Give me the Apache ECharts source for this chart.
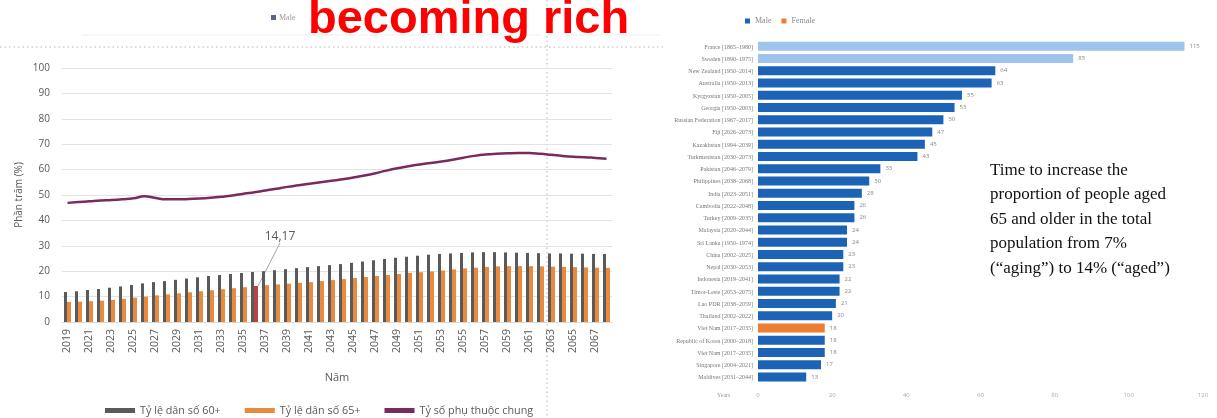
<!DOCTYPE html>
<html>
<head>
<meta charset="utf-8">
<script src="https://cdn.jsdelivr.net/npm/echarts@6/dist/echarts.min.js"></script>
<style>
  html, body { margin: 0; padding: 0; background: #fff; }
  #main { width: 1217px; height: 418px; }
</style>
</head>
<body>
<div id="main"></div>
<script>
// left chart: years 2019..2068
var years = ['2019','2020','2021','2022','2023','2024','2025','2026','2027','2028',
  '2029','2030','2031','2032','2033','2034','2035','2036','2037','2038',
  '2039','2040','2041','2042','2043','2044','2045','2046','2047','2048',
  '2049','2050','2051','2052','2053','2054','2055','2056','2057','2058',
  '2059','2060','2061','2062','2063','2064','2065','2066','2067','2068'];
var pop60 = [11.8,12.1,12.6,13.0,13.5,14.0,14.6,15.2,15.7,16.1,
  16.6,17.1,17.6,18.1,18.5,18.9,19.3,19.7,20.0,20.4,
  20.8,21.2,21.6,22.0,22.4,22.8,23.3,23.8,24.3,24.8,
  25.3,25.7,26.1,26.5,26.8,27.0,27.2,27.4,27.5,27.5,
  27.4,27.3,27.2,27.1,27.0,27.0,26.9,26.9,26.8,26.8];
var pop65 = [7.9,8.0,8.2,8.4,8.7,9.1,9.6,10.0,10.5,10.9,
  11.3,11.7,12.1,12.5,12.9,13.3,13.7,14.17,14.5,14.8,
  15.1,15.4,15.7,16.1,16.5,16.9,17.3,17.7,18.1,18.5,
  18.9,19.3,19.6,19.9,20.3,20.7,21.1,21.4,21.7,21.9,
  22.0,22.0,22.0,21.9,21.8,21.7,21.6,21.5,21.4,21.3];
var dependency = [46.9,47.2,47.5,47.8,48.0,48.3,48.7,49.5,48.8,48.3,
  48.3,48.4,48.6,48.9,49.3,49.8,50.5,51.1,51.8,52.5,
  53.2,53.8,54.4,55.0,55.6,56.2,56.9,57.7,58.6,59.6,
  60.5,61.3,62.0,62.6,63.2,63.9,64.7,65.4,65.9,66.2,
  66.4,66.5,66.5,66.2,65.8,65.4,65.1,64.9,64.6,64.3];
var highlightIndex = 17;

// right chart: years to go from 7% to 14% aged 65+
var countries = ['France [1865–1980]','Sweden [1890–1975]','New Zealand [1950–2014]','Australia [1950–2013]',
  'Kyrgyzstan [1950–2005]','Georgia [1950–2003]','Russian Federation [1967–2017]','Fiji [2026–2073]',
  'Kazakhstan [1994–2039]','Turkmenistan [2030–2073]','Pakistan [2046–2079]','Philippines [2038–2068]',
  'India [2023–2051]','Cambodia [2022–2048]','Turkey [2009–2035]','Malaysia [2020–2044]',
  'Sri Lanka [1950–1974]','China [2002–2025]','Nepal [2030–2053]','Indonesia [2019–2041]',
  'Timor-Leste [2053–2075]','Lao PDR [2038–2059]','Thailand [2002–2022]','Viet Nam [2017–2035]',
  'Republic of Korea [2000–2018]','Viet Nam [2017–2035]','Singapore [2004–2021]','Maldives [2031–2044]'];
var yearsToAge = [115,85,64,63,55,53,50,47,45,43,33,30,28,26,26,24,24,23,23,22,22,21,20,18,18,18,17,13];
var lightIdx = [0, 1];
var orangeIdx = 23;

var noteLines = ['Time to increase the', 'proportion of people aged', '65 and older in the total',
  'population from 7%', '(\u201caging\u201d) to 14% (\u201caged\u201d)'];

var gray = '#595959';

var chart = echarts.init(document.getElementById('main'));

var s65 = pop65.map(function (v, i) {
  if (i !== highlightIndex) return v;
  return {
    value: v,
    itemStyle: { color: '#b8443f' },
    label: { show: true, position: 'top', formatter: '14,17', fontSize: 12, color: gray, fontFamily: 'Open Sans' }
  };
});

var rightData = yearsToAge.map(function (v, i) {
  var c = '#1c63b6';
  if (lightIdx.indexOf(i) >= 0) c = '#9ec4ee';
  if (i === orangeIdx) c = '#ee7d2f';
  return { value: v, itemStyle: { color: c } };
});

chart.setOption({
  animation: false,
  textStyle: { fontFamily: 'Open Sans' },
  grid: [
    { left: 62, top: 68, width: 550, height: 254 },
    { left: 758, top: 41, width: 445, height: 343 }
  ],
  legend: [{
    left: 100, top: 400,
    itemWidth: 30, itemHeight: 5, itemGap: 24,
    icon: 'rect',
    textStyle: { fontSize: 10.8, color: gray },
    data: ['Tỷ lệ dân số 60+', 'Tỷ lệ dân số 65+', 'Tỷ số phụ thuộc chung']
  }, {
    left: 740, top: 12,
    itemWidth: 5, itemHeight: 5, itemGap: 10,
    icon: 'rect',
    textStyle: { fontSize: 8, color: '#888', fontFamily: 'Liberation Serif' },
    data: ['Male', 'Female']
  }],
  xAxis: [{
    type: 'category', gridIndex: 0, data: years,
    axisLine: { lineStyle: { color: '#d9d9d9' } },
    axisTick: { show: false },
    axisLabel: { rotate: 90, interval: 1, fontSize: 10.5, color: gray, margin: 7 },
    name: 'Năm', nameLocation: 'middle', nameGap: 50,
    nameTextStyle: { fontSize: 11, color: gray }
  }, {
    type: 'value', gridIndex: 1, min: 0, max: 120, interval: 20,
    splitLine: { show: false },
    axisLine: { show: false },
    axisTick: { show: false },
    axisLabel: { fontSize: 6, color: '#aaa', margin: 8 }
  }],
  yAxis: [{
    type: 'value', gridIndex: 0, min: 0, max: 100, interval: 10,
    splitLine: { lineStyle: { color: '#e3e3e3' } },
    axisLabel: { fontSize: 10, color: gray, margin: 12 },
    name: 'Phần trăm (%)', nameLocation: 'middle', nameGap: 38, nameRotate: 90,
    nameTextStyle: { fontSize: 10, color: gray }
  }, {
    type: 'category', gridIndex: 1, data: countries, inverse: true,
    axisLine: { show: false },
    axisTick: { show: false },
    axisLabel: { fontSize: 6, color: '#777', margin: 5, fontFamily: 'Liberation Serif' }
  }],
  series: [{
    name: 'Tỷ lệ dân số 60+', type: 'bar', xAxisIndex: 0, yAxisIndex: 0,
    data: pop60, barWidth: 3, barGap: '0%',
    itemStyle: { color: '#5a5a5a' }
  }, {
    name: 'Tỷ lệ dân số 65+', type: 'bar', xAxisIndex: 0, yAxisIndex: 0,
    data: s65, barWidth: 4, barGap: '0%',
    itemStyle: { color: '#e98b3e' },
    labelLayout: function (p) {
      if (p.dataIndex === highlightIndex) return { dx: 24, dy: -38 };
    },
    labelLine: { show: true, lineStyle: { color: '#9aa7b5', width: 1 } }
  }, {
    name: 'Tỷ số phụ thuộc chung', type: 'line', xAxisIndex: 0, yAxisIndex: 0,
    data: dependency, smooth: true, showSymbol: false,
    lineStyle: { color: '#7a2b5e', width: 2.5 },
    itemStyle: { color: '#7a2b5e' }
  }, {
    name: 'Male', type: 'bar', xAxisIndex: 1, yAxisIndex: 1,
    data: rightData, barWidth: 9,
    itemStyle: { color: '#1c63b6' },
    label: { show: true, position: 'right', distance: 5, fontSize: 6, color: '#888' }
  }, {
    name: 'Female', type: 'bar', xAxisIndex: 1, yAxisIndex: 1,
    data: [], itemStyle: { color: '#ee7d2f' }
  }],
  graphic: [
    { type: 'line', shape: { x1: 82, y1: 35, x2: 540, y2: 35 }, style: { stroke: '#eeeeee', lineWidth: 1 } },
    { type: 'line', shape: { x1: 565, y1: 35, x2: 660, y2: 35 }, style: { stroke: '#eeeeee', lineWidth: 1 } },
    { type: 'line', shape: { x1: 0, y1: 47, x2: 665, y2: 47 }, style: { stroke: '#b5b5b5', lineWidth: 1.2, lineDash: [1.5, 3] } },
    { type: 'line', shape: { x1: 547, y1: 0, x2: 547, y2: 418 }, style: { stroke: '#b5b5b5', lineWidth: 1, lineDash: [1.5, 3] } },
    { type: 'rect', shape: { x: 271, y: 15, width: 5, height: 5 }, style: { fill: '#5b6394' } },
    { type: 'text', x: 279, y: 18, style: { text: 'Male', font: '8px "Liberation Serif"', fill: '#999', verticalAlign: 'middle' } },
    { type: 'text', x: 308, y: 20, z: 100, style: { text: 'becoming rich', font: 'bold 47px "Liberation Sans"', fill: '#ff0000', verticalAlign: 'middle' } },
    { type: 'text', x: 990, y: 158, style: { text: noteLines.join('\n'), font: '17px "Liberation Serif"', lineHeight: 24.5, fill: '#111', verticalAlign: 'top' } },
    { type: 'text', x: 717, y: 395, style: { text: 'Years', font: '6px "Liberation Serif"', fill: '#999', verticalAlign: 'middle' } }
  ]
});
</script>
</body>
</html>
